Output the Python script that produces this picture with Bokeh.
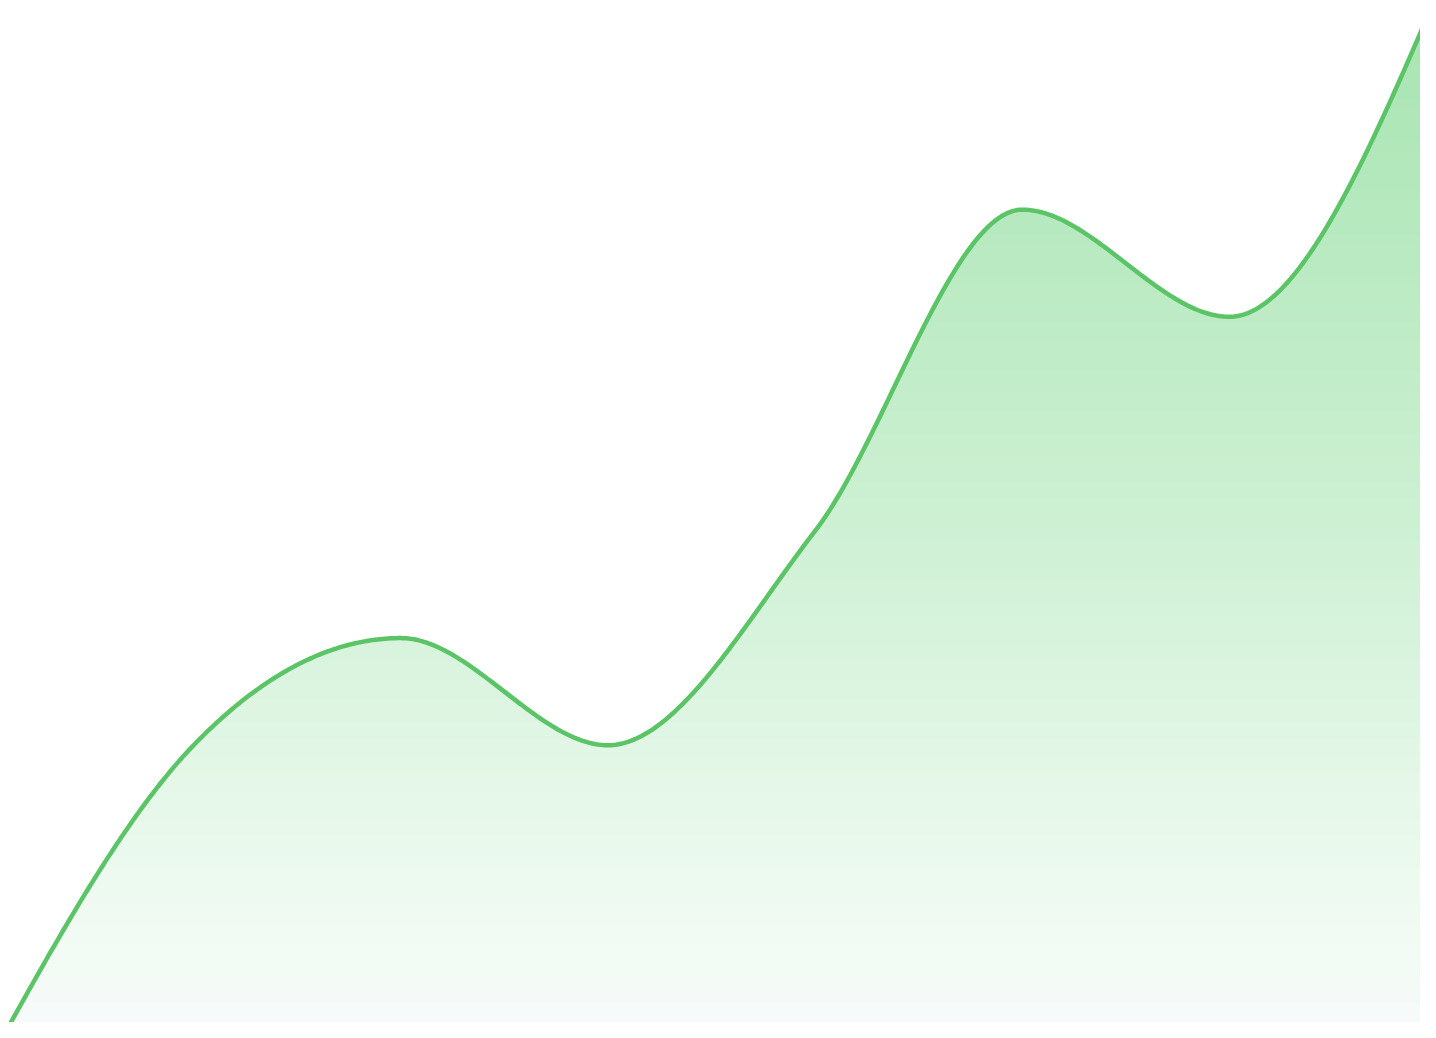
import numpy as np
from bokeh.plotting import figure
from bokeh.models import ColumnDataSource, Range1d
from bokeh.embed import file_html
from bokeh.resources import INLINE

# ---- data ----
periods = [0, 1, 2, 3, 4, 5, 6, 7]
values = [0, 30, 40, 30, 50, 80, 70, 100]

# ---- style ----
LINE_COLOR = "#5ac467"
# gradient stops: (fraction from top of the chart, rgb)
GRAD_STOPS = [
    (0.00, (166, 228, 176)),
    (0.50, (205, 240, 211)),
    (0.85, (237, 250, 240)),
    (0.93, (243, 251, 245)),
    (1.00, (248, 249, 252)),
]


def monotone_x(xs, ys, n=80):
    """Monotone cubic (d3 curveMonotoneX) sampling of the series."""
    xs = np.asarray(xs, float)
    ys = np.asarray(ys, float)
    m = len(xs)
    h = np.diff(xs)
    s = np.diff(ys) / h
    t = np.zeros(m)
    for i in range(1, m - 1):
        p = (s[i - 1] * h[i] + s[i] * h[i - 1]) / (h[i - 1] + h[i])
        t[i] = (np.sign(s[i - 1]) + np.sign(s[i])) * min(abs(s[i - 1]), abs(s[i]), 0.5 * abs(p))
    t[0] = (3 * s[0] - t[1]) / 2
    t[-1] = (3 * s[-1] - t[-2]) / 2
    out_x, out_y = [], []
    for i in range(m - 1):
        x0, x1, y0, y1 = xs[i], xs[i + 1], ys[i], ys[i + 1]
        dx = (x1 - x0) / 3
        P = np.array([[x0, y0], [x0 + dx, y0 + dx * t[i]], [x1 - dx, y1 - dx * t[i + 1]], [x1, y1]])
        u = np.linspace(0, 1, n, endpoint=(i == m - 2))
        b = np.stack([(1 - u) ** 3, 3 * u * (1 - u) ** 2, 3 * u ** 2 * (1 - u), u ** 3], axis=1)
        pts = b @ P
        out_x.extend(pts[:, 0])
        out_y.extend(pts[:, 1])
    return np.array(out_x), np.array(out_y)


def grad_color(f):
    for (f0, c0), (f1, c1) in zip(GRAD_STOPS[:-1], GRAD_STOPS[1:]):
        if f <= f1:
            k = (f - f0) / (f1 - f0)
            c = [int(round(a + (b - a) * k)) for a, b in zip(c0, c1)]
            return "#%02x%02x%02x" % tuple(c)
    return "#%02x%02x%02x" % GRAD_STOPS[-1][1]


cx, cy = monotone_x(periods, values)

x_lo, x_hi = 0.0676, 6.9228
y_lo, y_hi = 4.108, 99.53

p = figure(width=1420, height=1022, output_backend="svg", toolbar_location=None,
           x_range=Range1d(x_lo, x_hi), y_range=Range1d(y_lo, y_hi),
           x_axis_type=None, y_axis_type=None, min_border=0)
p.outline_line_color = None
p.grid.visible = False
p.background_fill_color = "white"
p.border_fill_color = "white"

# gradient fill under the curve, drawn as stacked horizontal slices
g_top, g_bot = 99.53, 2.61
nb = 200
edges = np.linspace(min(values) - 5, g_top + 5, nb + 1)
step = edges[1] - edges[0]
for k in range(nb):
    b, t = edges[k], edges[k + 1]
    mid = (b + t) / 2
    f = min(max((g_top - mid) / (g_top - g_bot), 0.0), 1.0)
    src = ColumnDataSource(dict(x=cx, y1=np.minimum(cy, b), y2=np.minimum(cy, t + step * 0.6)))
    p.varea(x="x", y1="y1", y2="y2", fill_color=grad_color(f), source=src)

# line
line_src = ColumnDataSource(dict(x=cx, y=cy))
p.line(x="x", y="y", line_color=LINE_COLOR, line_width=4.5, line_join="round",
       line_cap="round", source=line_src)

open("out.html", "w").write(file_html(p, INLINE))
